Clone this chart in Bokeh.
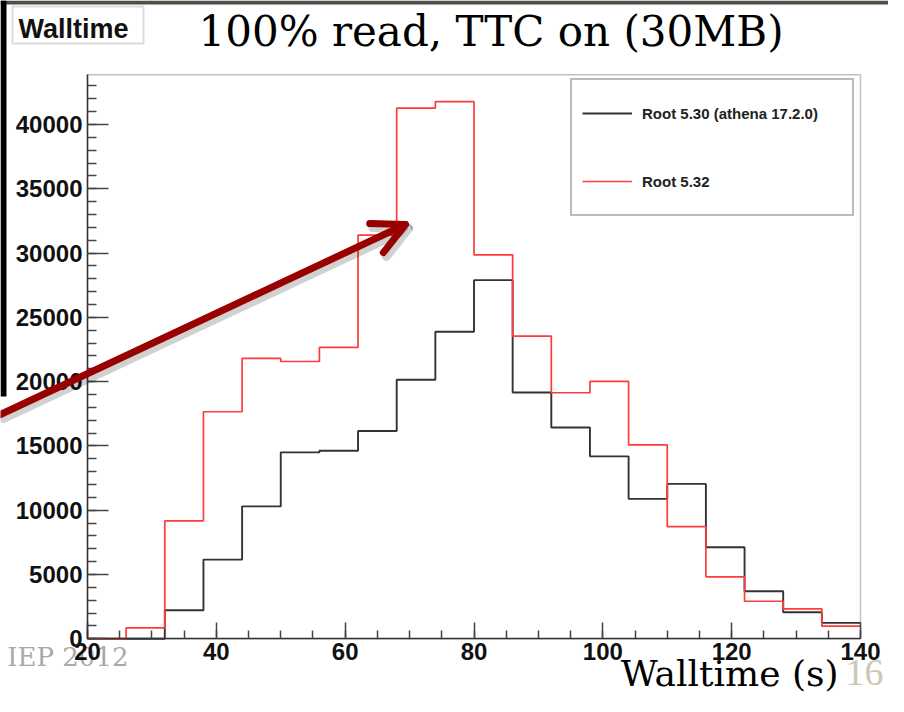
import numpy as np
from bokeh.plotting import figure
from bokeh.models import (Range1d, SingleIntervalTicker, Label, Legend, LegendItem,
                          Arrow, OpenHead, BasicTickFormatter, BoxAnnotation)
from bokeh.embed import file_html
from bokeh.resources import INLINE

# ---- data ----
bin_edges = [20, 26, 32, 38, 44, 50, 56, 62, 68, 74, 80, 86, 92, 98, 104, 110, 116, 122, 128, 134, 140]
root_530 = [0, 0, 2220, 6160, 10300, 14500, 14630, 16160, 20150, 23880, 27900,
            19160, 16440, 14190, 10880, 12050, 7120, 3700, 2070, 1240]
root_532 = [0, 855, 9170, 17660, 21810, 21570, 22660, 31400, 41270, 41780, 29870,
            23550, 19140, 20020, 15080, 8730, 4820, 2920, 2330, 980]
labels = ["Root 5.30 (athena 17.2.0)", "Root 5.32"]
title_text = "100% read, TTC on (30MB)"
x_title = "Walltime (s)"
hist_name = "Walltime"


def step_path(edges, counts):
    xs = np.repeat(np.asarray(edges, dtype=float), 2)[1:-1]
    ys = np.repeat(np.asarray(counts, dtype=float), 2)
    return xs, ys


ymax = 1.05 * max(max(root_530), max(root_532))
xmin, xmax = bin_edges[0], bin_edges[-1]

# ---- layout: the frame covers the whole canvas; the histogram box is placed inside ----
W, H = 888, 696
BL, BR, BT, BB = 87, 860, 74.3, 638.3      # histogram box in canvas px
ux = (xmax - xmin) / (BR - BL)
uy = ymax / (BB - BT)
x_range = Range1d(xmin - BL * ux, xmin + (W - BL) * ux)
y_range = Range1d(-(H - BB) * uy, ymax + BT * uy)


def sx(px):      # canvas px -> screen units (from frame left)
    return px


def sy(py):      # canvas px (from top) -> screen units (from frame bottom)
    return H - py


def screen_box(left, top, right, bottom, **kw):
    return BoxAnnotation(left=sx(left), right=sx(right), top=sy(top), bottom=sy(bottom),
                         left_units="screen", right_units="screen",
                         top_units="screen", bottom_units="screen", **kw)


p = figure(width=W, height=H, output_backend="svg", toolbar_location=None,
           x_range=x_range, y_range=y_range,
           min_border_left=0, min_border_right=0, min_border_top=0, min_border_bottom=0)
p.grid.visible = False
p.background_fill_color = "white"
p.border_fill_color = "white"
p.outline_line_color = None

# slide decorations
p.add_layout(screen_box(0, 0, W, 4, fill_color="#4f4f47", fill_alpha=1,
                        line_color=None, level="underlay"))
p.add_layout(screen_box(0, 0, 6, 396, fill_color="black", fill_alpha=1,
                        line_color=None, level="underlay"))
p.add_layout(Label(x=sx(128), y=sy(641), x_units="screen", y_units="screen",
                   text="IEP 2012", text_font="DejaVu Serif", text_font_size="26px",
                   text_color="#a8a8a8", text_align="right", text_baseline="top",
                   level="underlay"))

# axes fixed at the histogram box edges
p.xaxis.fixed_location = 0
p.yaxis.fixed_location = xmin
p.xaxis.bounds = (xmin, xmax)
p.yaxis.bounds = (0, ymax)
p.xaxis.ticker = SingleIntervalTicker(interval=20, num_minor_ticks=4)
p.yaxis.ticker = SingleIntervalTicker(interval=5000, num_minor_ticks=5)
p.yaxis.formatter = BasicTickFormatter(use_scientific=False)
for ax in (p.xaxis, p.yaxis):
    ax.axis_line_color = "#333333"
    ax.axis_line_width = 1.5
    ax.major_tick_line_color = "#444444"
    ax.minor_tick_line_color = "#444444"
    ax.major_tick_line_width = 1.5
    ax.minor_tick_line_width = 1.5
    ax.major_tick_out = 0
    ax.minor_tick_out = 0
    ax.major_label_text_font = "Liberation Sans"
    ax.major_label_text_font_style = "bold"
    ax.major_label_text_font_size = "24px"
    ax.major_label_text_color = "#111111"
p.xaxis.major_tick_in = 16
p.xaxis.minor_tick_in = 8
p.yaxis.major_tick_in = 21
p.yaxis.minor_tick_in = 9
p.xaxis.major_label_standoff = 4
p.yaxis.major_label_standoff = 5

# histogram box (frame)
p.add_layout(BoxAnnotation(left=xmin, right=xmax, bottom=0, top=ymax,
                           fill_alpha=0, line_color="#333333", line_width=1.5, level="underlay"))

# histograms
xb, yb = step_path(bin_edges, root_530)
xr, yr = step_path(bin_edges, root_532)
r_black = p.line(xb, yb, line_color="#333333", line_width=1.9)
r_red = p.line(xr, yr, line_color="#ff3b3b", line_width=1.7)

legend = Legend(items=[LegendItem(label=labels[0], renderers=[r_black]),
                       LegendItem(label=labels[1], renderers=[r_red])],
                location=(sx(570), sy(216)), orientation="vertical",
                padding=10, spacing=22, margin=0,
                glyph_width=50, glyph_height=46, label_height=46, label_width=200,
                label_standoff=10, label_text_font="Liberation Sans",
                label_text_font_style="bold", label_text_font_size="15px",
                label_text_color="#222222", label_text_baseline="middle",
                border_line_color="#777777", border_line_width=2,
                background_fill_color="white", background_fill_alpha=1.0)
p.add_layout(legend)

# histogram name box
p.add_layout(screen_box(12, 6, 143, 43, fill_color="white", fill_alpha=1,
                        line_color="#8a8a8a", line_width=2))
p.add_layout(Label(x=sx(18), y=sy(13), x_units="screen", y_units="screen",
                   text=hist_name, text_font="Liberation Sans", text_font_style="bold",
                   text_font_size="27px", text_color="#111111",
                   text_align="left", text_baseline="top"))

# slide title and texts
p.add_layout(Label(x=sx(198), y=sy(6.6), x_units="screen", y_units="screen",
                   text=title_text, text_font="DejaVu Serif", text_font_size="42px",
                   text_color="black", text_align="left", text_baseline="top"))
p.add_layout(Label(x=sx(838), y=sy(652), x_units="screen", y_units="screen",
                   text=x_title, text_font="DejaVu Serif", text_font_size="36px",
                   text_color="black", text_align="right", text_baseline="top"))
p.add_layout(Label(x=sx(845), y=sy(659), x_units="screen", y_units="screen",
                   text="16", text_font="Liberation Serif", text_font_size="38px",
                   text_color="#cdc8b5", text_align="left", text_baseline="top"))

# red callout arrow (with soft shadow)
a_start = (sx(0), sy(414))
a_end = (sx(405), sy(224))
sh = (3, -4)
p.add_layout(Arrow(x_start=a_start[0] + sh[0], y_start=a_start[1] + sh[1],
                   x_end=a_end[0] + sh[0], y_end=a_end[1] + sh[1],
                   start_units="screen", end_units="screen",
                   line_color="black", line_alpha=0.18, line_width=9, line_cap="round",
                   end=OpenHead(size=32, line_width=9, line_color="black",
                                line_alpha=0.18, line_cap="round", line_join="round")))
p.add_layout(Arrow(x_start=a_start[0], y_start=a_start[1], x_end=a_end[0], y_end=a_end[1],
                   start_units="screen", end_units="screen",
                   line_color="#990000", line_width=7, line_cap="round",
                   end=OpenHead(size=32, line_width=7, line_color="#990000",
                                line_cap="round", line_join="round")))

open("out.html", "w").write(file_html(p, INLINE))
